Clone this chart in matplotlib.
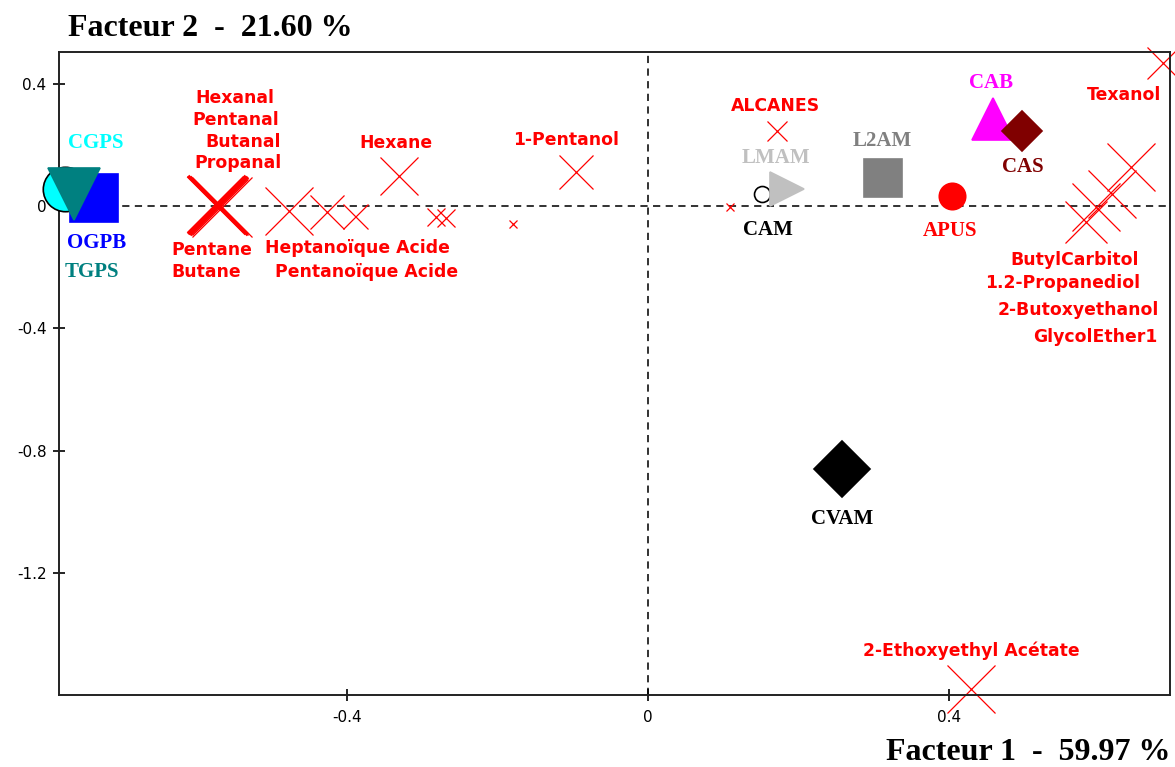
#!/usr/bin/env python3
"""Factorial map (ACP) : facteur 1 x facteur 2, variables + individus."""

import matplotlib
matplotlib.use("Agg")
from matplotlib import pyplot as plt

# --- variables (red crosses) ---------------------------------------------
var_x = [-0.575, -0.572, -0.570, -0.568, -0.572, -0.566,
         -0.477, -0.426, -0.389, -0.331, -0.282, -0.268, -0.179, -0.096,
         0.109, 0.171, 0.684, 0.641, 0.616, 0.595, 0.582, 0.429]
var_y = [0.006, 0.004, 0.000, -0.003, 0.002, -0.002,
         -0.016, -0.020, -0.033, 0.098, -0.036, -0.039, -0.059, 0.111,
         -0.003, 0.245, 0.467, 0.127, 0.039, -0.003, -0.052, -1.578]
var_quality = [40, 42, 42, 40, 38, 43,
               35, 25, 18, 27, 13, 13, 6, 25,
               6, 14, 23, 35, 35, 35, 30, 35]
var_weight = [0.9, 2.6, 2.6, 0.9, 0.9, 0.9,
              0.9, 0.9, 0.9, 0.9, 0.9, 0.9, 0.9, 0.9,
              0.9, 0.9, 0.9, 0.9, 0.9, 0.9, 0.9, 0.9]

var_labels = ["Hexanal", "Pentanal", "Butanal", "Propanal", "Pentane", "Butane",
              "Heptanoïque Acide", "Pentanoïque Acide", "Hexane", "1-Pentanol",
              "ALCANES", "Texanol", "ButylCarbitol", "1.2-Propanediol",
              "2-Butoxyethanol", "GlycolEther1", "2-Ethoxyethyl Acétate"]
var_lab_x = [-0.548, -0.548, -0.538, -0.544, -0.579, -0.586,
             -0.386, -0.374, -0.335, -0.109,
             0.169, 0.632, 0.567, 0.551, 0.571, 0.594, 0.429]
var_lab_y = [0.353, 0.281, 0.209, 0.141, -0.144, -0.216,
             -0.137, -0.216, 0.206, 0.216,
             0.327, 0.363, -0.176, -0.252, -0.340, -0.428, -1.454]

# --- individus (coloured symbols) ------------------------------------------
ind_names = ["CGPS", "OGPB", "TGPS", "CAM", "LMAM", "L2AM", "APUS", "CAB", "CAS", "CVAM"]
ind_x = [-0.774, -0.736, -0.762, 0.151, 0.185, 0.312, 0.403, 0.458, 0.497, 0.258]
ind_y = [0.054, 0.026, 0.038, 0.039, 0.056, 0.090, 0.031, 0.284, 0.245, -0.861]
ind_lab_x = [-0.733, -0.732, -0.739, 0.159, 0.170, 0.311, 0.401, 0.456, 0.498, 0.258]
ind_lab_y = [0.206, -0.121, -0.216, -0.078, 0.157, 0.212, -0.082, 0.402, 0.127, -1.023]

STYLE = {
    "CGPS": dict(marker="o", ms=32, mfc="#00ffff", mec="black", z=3),
    "OGPB": dict(marker="s", ms=34, mfc="#0000ff", mec="#0000ff", z=4),
    "TGPS": dict(marker="v", ms=37, mfc="#008080", mec="#008080", z=5),
    "CAM":  dict(marker="o", ms=11.5, mfc="white", mec="black", z=3),
    "LMAM": dict(marker=">", ms=25, mfc="#c0c0c0", mec="#c0c0c0", z=4),
    "L2AM": dict(marker="s", ms=27, mfc="#808080", mec="#808080", z=4),
    "APUS": dict(marker="o", ms=19, mfc="#ff0000", mec="#ff0000", z=4),
    "CAB":  dict(marker="^", ms=30, mfc="#ff00ff", mec="#ff00ff", z=4),
    "CAS":  dict(marker="D", ms=20, mfc="#800000", mec="#800000", z=5),
    "CVAM": dict(marker="D", ms=28.5, mfc="black", mec="black", z=4),
}
LABEL_COLOR = {"CGPS": "#00ffff", "OGPB": "#0000ff", "TGPS": "#008080",
               "CAM": "black", "LMAM": "#c0c0c0", "L2AM": "#808080",
               "APUS": "#ff0000", "CAB": "#ff00ff", "CAS": "#800000",
               "CVAM": "black"}


def main():
    plt.rcParams["axes.unicode_minus"] = False
    fig = plt.figure(figsize=(11.75, 7.67), dpi=100)
    ax = fig.add_axes([59 / 1175, 1 - 695 / 767, (1170 - 59) / 1175, (695 - 52) / 767])

    ax.set_xlim(-0.782, 0.693)
    ax.set_ylim(-1.598, 0.503)
    ax.set_xticks([-0.4, 0, 0.4])
    ax.set_xticklabels(["-0.4", "0", "0.4"])
    ax.set_yticks([0.4, 0, -0.4, -0.8, -1.2])
    ax.set_yticklabels(["0.4", "0", "-0.4", "-0.8", "-1.2"])
    ax.tick_params(direction="inout", length=8, width=1.2, labelsize=11)
    ax.tick_params(axis="x", pad=7)
    ax.tick_params(axis="y", pad=5)
    for sp in ax.spines.values():
        sp.set_linewidth(1.4)
        sp.set_color("#222222")

    ax.axhline(0, color="#222222", lw=1.3, ls=(0, (4, 3)), zorder=1)
    ax.axvline(0, color="#222222", lw=1.3, ls=(0, (4, 3)), zorder=1)

    for x, y, q, w in zip(var_x, var_y, var_quality, var_weight):
        ax.plot(x, y, marker="x", ms=q, mew=w, color="#ff0000",
                ls="none", zorder=2, clip_on=False)
    for t, x, y in zip(var_labels, var_lab_x, var_lab_y):
        ax.text(x, y, t, color="#ff0000", fontsize=12.4, fontweight="bold",
                ha="center", va="center", zorder=6)

    for n, x, y in zip(ind_names, ind_x, ind_y):
        st = STYLE[n]
        ax.plot(x, y, marker=st["marker"], ms=st["ms"], mfc=st["mfc"],
                mec=st["mec"], mew=1.2, ls="none", zorder=st["z"], clip_on=False)
    for n, x, y in zip(ind_names, ind_lab_x, ind_lab_y):
        ax.text(x, y, n, color=LABEL_COLOR[n], fontsize=15, fontweight="bold",
                family="Liberation Serif", ha="center", va="center", zorder=6)

    fig.text(68 / 1175, 1 - 28 / 767, "Facteur 2  -  21.60 %", fontsize=23,
             fontweight="bold", family="Liberation Serif", ha="left", va="center")
    fig.text(1170 / 1175, 1 - 752 / 767, "Facteur 1  -  59.97 %", fontsize=23,
             fontweight="bold", family="Liberation Serif", ha="right", va="center")

    fig.savefig("out.png", dpi=100)


if __name__ == "__main__":
    main()
